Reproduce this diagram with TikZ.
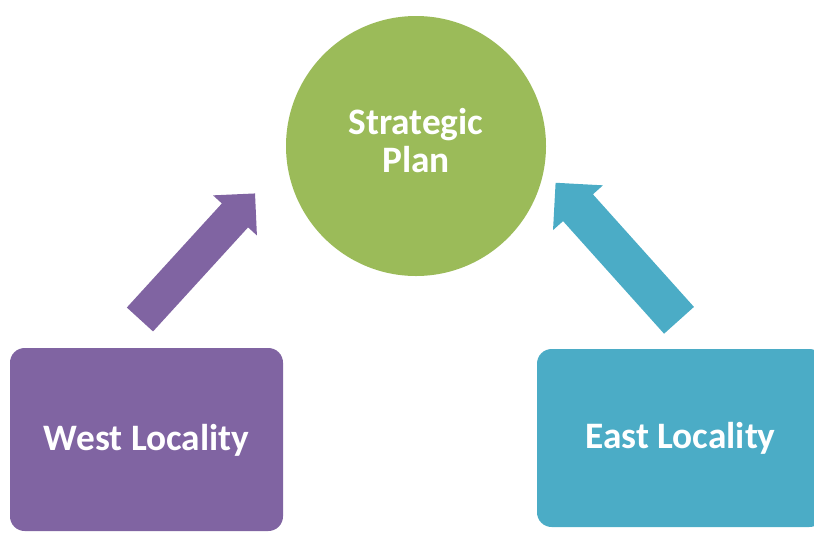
\documentclass[tikz,border=0pt]{standalone}
\usepackage{fontspec}
\setmainfont{Carlito}
\usepackage{tikz}
\usetikzlibrary{shapes.arrows}
\definecolor{planGreen}{HTML}{9BBB59}
\definecolor{westPurple}{HTML}{8064A2}
\definecolor{eastBlue}{HTML}{4BACC6}

\begin{document}
\begin{tikzpicture}[x=0.75pt,y=-0.75pt,
  box/.style={draw=none,rounded corners=11pt,text=white,
    font=\fontsize{28}{33}\selectfont\bfseries},
  fatarrow/.style={single arrow,draw=none,single arrow tip angle=90}]
\useasboundingbox (0,0) rectangle (814,533);

% the plan
\node[circle,fill=planGreen,minimum size=195pt,text=white,align=center,
  text depth=8.5pt,font=\fontsize{28}{28.5}\selectfont\bfseries] (plan) at (416,146)
  {Strategic\\Plan};

% localities
\node[box,fill=westPurple,minimum width=204.75pt,minimum height=137.25pt,
  text depth=3pt] (west) at (146.5,439.5) {West Locality};
\node[box,fill=eastBlue,minimum width=215.25pt,minimum height=133.5pt,
  text depth=4pt] (east) at (680.5,438) {East Locality};

% arrows
\node[fatarrow,fill=westPurple,rotate=47.6,minimum height=128pt,
  inner sep=13.1pt,single arrow head extend=9pt] (westarrow) at (191.5,263) {};
\node[fatarrow,fill=eastBlue,rotate=131.9,minimum height=138.6pt,
  inner sep=14.85pt,single arrow head extend=10.1pt] (eastarrow) at (624,259) {};

\end{tikzpicture}
\end{document}
